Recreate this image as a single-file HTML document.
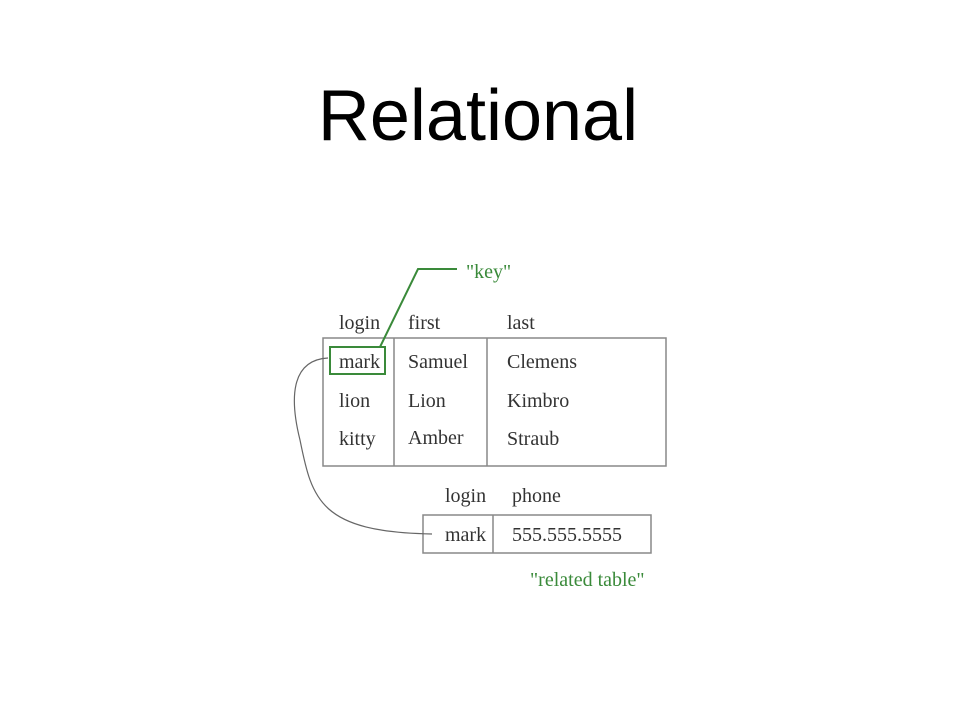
<!DOCTYPE html>
<html><head><meta charset="utf-8"><style>
body{margin:0;background:#fff;width:959px;height:720px;overflow:hidden}
</style></head><body>
<svg width="959" height="720" xmlns="http://www.w3.org/2000/svg">
<text x="478" y="140" text-anchor="middle" font-family="Liberation Sans, sans-serif" font-size="72" fill="#000">Relational</text>
<g font-family="Liberation Serif, serif" font-size="20" fill="#333">
<text x="339" y="329">login</text><text x="408" y="329">first</text><text x="507" y="329">last</text>
<text x="339" y="368">mark</text><text x="408" y="368">Samuel</text><text x="507" y="368">Clemens</text>
<text x="339" y="407">lion</text><text x="408" y="407">Lion</text><text x="507" y="407">Kimbro</text>
<text x="339" y="445">kitty</text><text x="408" y="444">Amber</text><text x="507" y="445">Straub</text>
<text x="445" y="502">login</text><text x="512" y="502">phone</text>
<text x="445" y="541">mark</text><text x="512" y="541">555.555.5555</text>
</g>
<g font-family="Liberation Serif, serif" font-size="20" fill="#3a8a3a">
<text x="466" y="278">"key"</text>
<text x="530" y="586">"related table"</text>
</g>
<g fill="none" stroke="#888" stroke-width="1.5">
<rect x="323" y="338" width="343" height="128"/>
<line x1="394" y1="338" x2="394" y2="466"/>
<line x1="487" y1="338" x2="487" y2="466"/>
<rect x="423" y="515" width="228" height="38"/>
<line x1="493" y1="515" x2="493" y2="553"/>
</g>
<path d="M328 358 C290 360 290 400 300 440 C312 500 320 532 432 534" fill="none" stroke="#666" stroke-width="1.2"/>
<g fill="none" stroke="#3a8a3a" stroke-width="2">
<rect x="330" y="347" width="55" height="27"/>
<polyline points="380,347 418,269 457,269"/>
</g>
</svg>
</body></html>
